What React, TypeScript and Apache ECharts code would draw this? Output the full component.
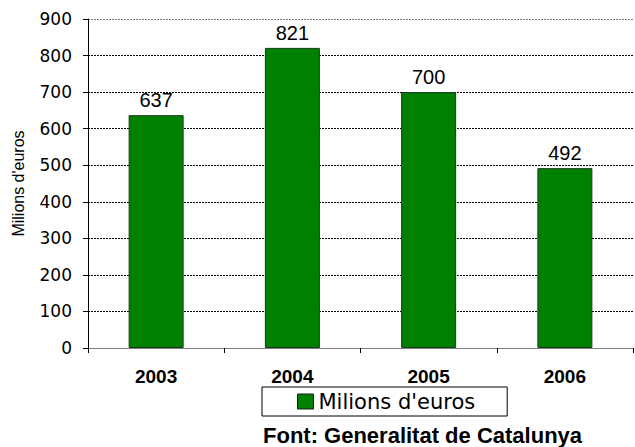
import React, { useEffect, useRef } from "react";
import * as echarts from "echarts";

const categories = ["2003", "2004", "2005", "2006"];
const values = [637, 821, 700, 492];
const seriesName = "Milions d'euros";
const sourceText = "Font: Generalitat de Catalunya";

export default function App() {
  const ref = useRef<HTMLDivElement>(null);
  useEffect(() => {
    const chart = echarts.init(ref.current!, null, { renderer: "svg" });
    const font = "'Liberation Sans', Arial, sans-serif";
    const wide = "'DejaVu Sans', sans-serif";
    const gridColors = ["#000", "#000", "#000", "#000", "#000", "#000", "#000", "#000", "#000", "#808080"];
    chart.setOption({
      animation: false,
      backgroundColor: "#ffffff",
      textStyle: { fontFamily: font },
      grid: { left: 88, right: 2, top: 19, bottom: 99, containLabel: false },
      legend: {
        data: [seriesName],
        left: 262,
        top: 387,
        padding: [4, 32, 4, 35],
        borderColor: "#000",
        borderWidth: 1,
        borderRadius: 0,
        itemWidth: 16,
        itemHeight: 15,
        icon: "rect",
        itemStyle: { borderColor: "#1a1a1a", borderWidth: 1 },
        textStyle: { fontSize: 21, color: "#000", fontFamily: wide },
      },
      xAxis: {
        type: "category",
        data: categories,
        axisLine: { lineStyle: { color: "#808080", width: 1 } },
        axisTick: { show: true, alignWithLabel: false, length: 5, lineStyle: { color: "#000" } },
        axisLabel: { fontSize: 19, fontWeight: "bold", color: "#000", margin: 19, fontFamily: font },
        splitLine: { show: false },
      },
      yAxis: {
        type: "value",
        min: 0,
        max: 900,
        interval: 100,
        name: seriesName,
        nameLocation: "middle",
        nameRotate: 90,
        nameGap: 62,
        nameTextStyle: { fontSize: 16, color: "#000", fontFamily: font },
        axisLine: { show: true, lineStyle: { color: "#000", width: 1 } },
        axisTick: { show: true, length: 5, lineStyle: { color: "#000" } },
        axisLabel: { fontSize: 17, color: "#000", margin: 16, fontFamily: wide },
        splitLine: { show: true, lineStyle: { color: gridColors, type: [2, 1], width: 1 } },
      },
      series: [
        {
          name: seriesName,
          type: "bar",
          data: values,
          barWidth: 55,
          itemStyle: { color: "#008000", borderColor: "#1a3a1a", borderWidth: 1 },
          label: { show: true, position: "top", distance: 5, fontSize: 20, color: "#000", fontFamily: font },
        },
      ],
      graphic: [
        {
          type: "text",
          left: 263,
          top: 424,
          style: { text: sourceText, font: `bold 22px ${font}`, fill: "#000" },
        },
      ],
    });
    return () => chart.dispose();
  }, []);
  return <div ref={ref} style={{ width: 635, height: 447, position: "absolute", left: 0, top: 0 }} />;
}
